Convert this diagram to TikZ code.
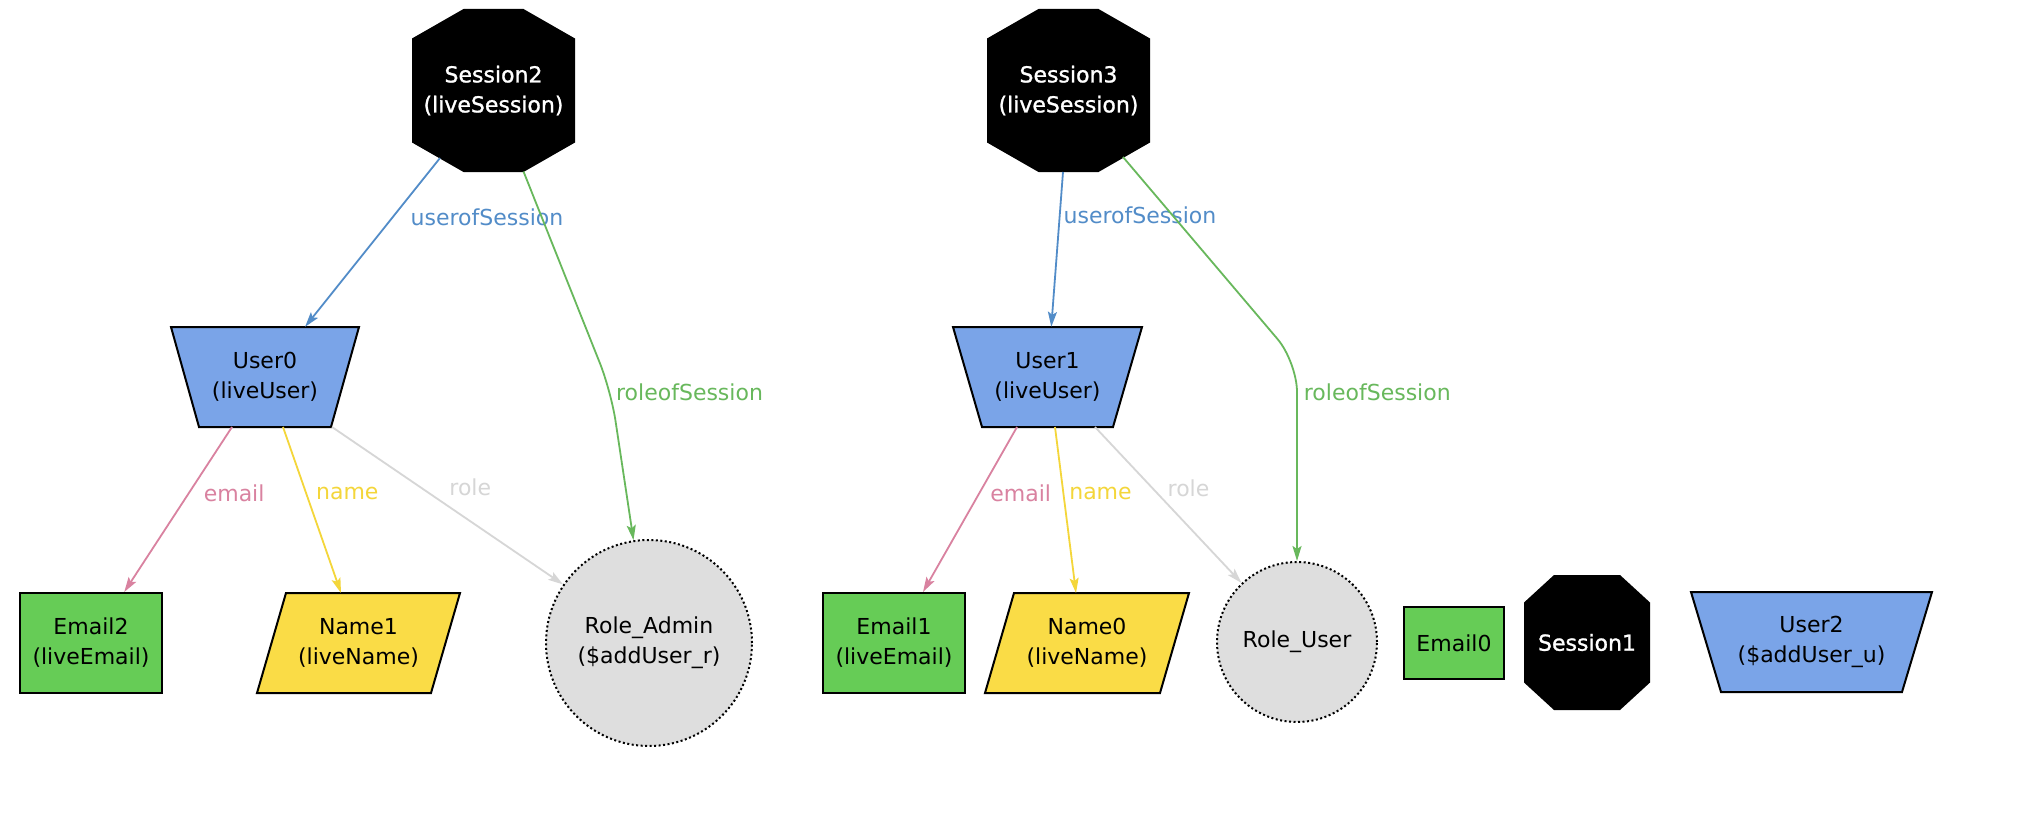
\documentclass[tikz,border=0pt]{standalone}
\usepackage{fontspec}
\setmainfont{DejaVu Sans}
\newfontfamily\sessfont{DejaVu Sans}[FakeBold=1.2]
\usetikzlibrary{arrows.meta,calc,backgrounds}
\definecolor{ublue}{RGB}{122,164,232}
\definecolor{egreen}{RGB}{102,204,86}
\definecolor{nyellow}{RGB}{250,220,70}
\definecolor{rgray}{RGB}{222,222,222}
\definecolor{cblue}{RGB}{82,140,200}
\definecolor{cgreen}{RGB}{104,184,92}
\definecolor{cpink}{RGB}{217,130,160}
\definecolor{cyellow}{RGB}{244,214,58}
\definecolor{cgray}{RGB}{214,214,214}
% #1 node, #2 half width, #3 half height, #4 half top edge, #5 half side
\newcommand{\octshape}[5]{\fill[black] ($(#1)+(-#4,-#3)$) -- ($(#1)+(#4,-#3)$) -- ($(#1)+(#2,-#5)$) -- ($(#1)+(#2,#5)$) -- ($(#1)+(#4,#3)$) -- ($(#1)+(-#4,#3)$) -- ($(#1)+(-#2,#5)$) -- ($(#1)+(-#2,-#5)$) -- cycle;}
% #1 node, #2 half top, #3 half bottom, #4 half height
\newcommand{\trapshape}[4]{\filldraw[userpoly] ($(#1)+(-#2,-#4)$) -- ($(#1)+(#2,-#4)$) -- ($(#1)+(#3,#4)$) -- ($(#1)+(-#3,#4)$) -- cycle;}
% #1 node, #2 half edge, #3 half skew, #4 half height
\newcommand{\parashape}[4]{\filldraw[namepoly] ($(#1)+(-#2+#3,-#4)$) -- ($(#1)+(#2+#3,-#4)$) -- ($(#1)+(#2-#3,#4)$) -- ($(#1)+(-#2-#3,#4)$) -- cycle;}
\begin{document}
\begin{tikzpicture}[x=1pt,y=-1pt,
  every node/.style={font=\fontsize{22}{30}\selectfont},
  shapetxt/.style={inner sep=0pt, align=center},
  sess/.style={shapetxt, text=white, font=\sessfont\fontsize{22}{30}\selectfont},
  emailbox/.style={shapetxt, draw=black, line width=2pt, fill=egreen},
  rolecirc/.style={shapetxt, circle, draw=black, line width=2pt, dash pattern=on 2pt off 2.5pt, fill=rgray},
  conn/.style={line width=1.8pt, -{Stealth[length=15pt,width=9pt,inset=3pt]}},
  lbl/.style={inner sep=2pt, anchor=west},
  userpoly/.style={draw=black, line width=2pt, fill=ublue},
  namepoly/.style={draw=black, line width=2pt, fill=nyellow}]
\useasboundingbox (0,0) rectangle (2032,832);
% nodes
\node[sess, minimum width=163pt, minimum height=163pt] (s2) at (493.5,90.5) {Session2\\(liveSession)};
\node[sess, minimum width=163pt, minimum height=163pt] (s3) at (1068.5,90.5) {Session3\\(liveSession)};
\node[sess, minimum width=126pt, minimum height=135pt] (s1) at (1587,642.5) {Session1};
\node[shapetxt, minimum width=188pt, minimum height=100pt] (u0) at (265,377) {User0\\(liveUser)};
\node[shapetxt, minimum width=189pt, minimum height=100pt] (u1) at (1047.5,377) {User1\\(liveUser)};
\node[shapetxt, minimum width=241pt, minimum height=100pt] (u2) at (1811.5,642) {User2\\(\$addUser\_u)};
\node[emailbox, minimum width=142pt, minimum height=100pt] (e2) at (91,643) {Email2\\(liveEmail)};
\node[emailbox, minimum width=142pt, minimum height=100pt] (e1) at (894,643) {Email1\\(liveEmail)};
\node[emailbox, minimum width=100pt, minimum height=72pt] (e0) at (1454,643) {Email0};
\node[shapetxt, minimum width=203pt, minimum height=100pt] (n1) at (358.5,643) {Name1\\(liveName)};
\node[shapetxt, minimum width=204pt, minimum height=100pt] (n0) at (1087,643) {Name0\\(liveName)};
\node[rolecirc, minimum size=206pt] (ra) at (649,643) {Role\_Admin\\(\$addUser\_r)};
\node[rolecirc, minimum size=160pt] (ru) at (1297,642) {Role\_User};
% shapes behind the texts
\begin{pgfonlayer}{background}
\fill[white] (0,0) rectangle (2032,832);
\octshape{s2}{81.5}{81.5}{30}{52}
\octshape{s3}{81.5}{81.5}{30}{52}
\octshape{s1}{63}{67.5}{33}{40}
\trapshape{u0}{94}{66}{50}
\trapshape{u1}{94.5}{65.5}{50}
\trapshape{u2}{120.5}{90.5}{50}
\parashape{n1}{87}{14.5}{50}
\parashape{n0}{87.5}{14.5}{50}
\end{pgfonlayer}
% bend points
\coordinate (bend2) at (611,391);
\coordinate (bend3) at (1297,362);
% connectors of Session2 / User0
\draw[conn, cblue] ($(s2)+(-53.5,67.5)$) -- node[lbl, text=cblue, pos=0.35, xshift=15pt] {userofSession} (u0);
\draw[conn, cgreen, rounded corners=30pt] ($(s2)+(30,81)$) -- (bend2) -- node[lbl, text=cgreen, pos=0.01, xshift=2pt] {roleofSession} (ra);
\draw[conn, cpink] ($(u0)+(-33,50)$) -- node[lbl, text=cpink, pos=0.4, xshift=12pt] {email} (e2);
\draw[conn, cyellow] ($(u0)+(18,50)$) -- node[lbl, text=cyellow, pos=0.4, xshift=7pt] {name} ($(n1)+(-17.5,-50)$);
\draw[conn, cgray] ($(u0)+(67,50)$) -- node[lbl, text=cgray, pos=0.5, xshift=-1pt, yshift=18pt] {role} (ra);
% connectors of Session3 / User1
\draw[conn, cblue] ($(s3)+(-5.5,81.5)$) -- node[lbl, text=cblue, pos=0.28, xshift=1pt] {userofSession} (u1);
\draw[conn, cgreen, rounded corners=30pt] ($(s3)+(54.5,66.5)$) -- (bend3) -- node[lbl, text=cgreen, pos=0.15, xshift=4pt] {roleofSession} (ru);
\draw[conn, cpink] ($(u1)+(-30.5,50)$) -- node[lbl, text=cpink, pos=0.4, xshift=8pt] {email} (e1);
\draw[conn, cyellow] ($(u1)+(7.5,50)$) -- node[lbl, text=cyellow, pos=0.4, xshift=3pt] {name} ($(n0)+(-11,-50)$);
\draw[conn, cgray] ($(u1)+(47.5,50)$) -- node[lbl, text=cgray, pos=0.5, xshift=-3.5pt, yshift=17pt] {role} (ru);
\end{tikzpicture}
\end{document}
